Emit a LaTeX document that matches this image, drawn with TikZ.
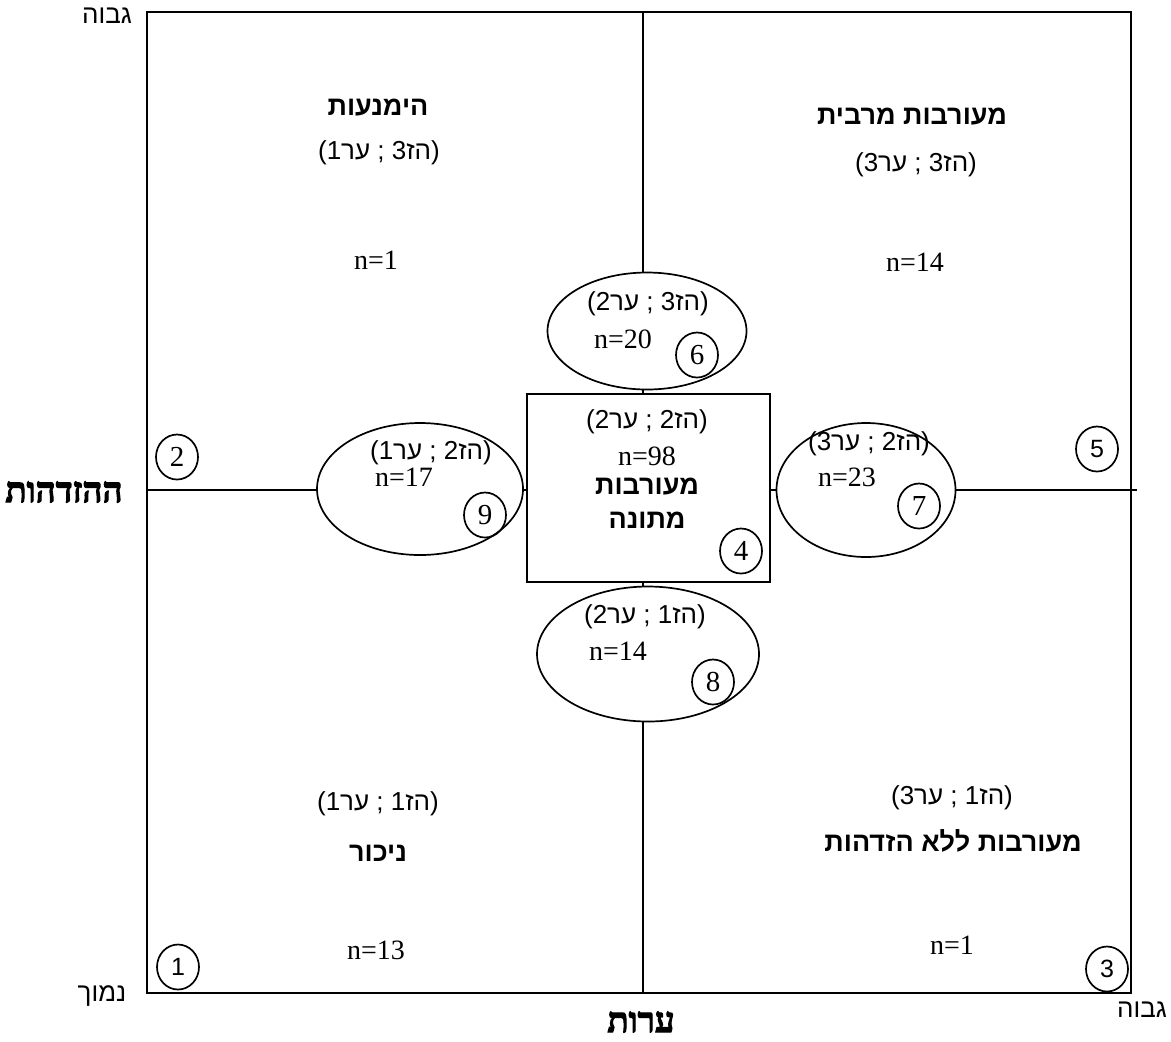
\documentclass[tikz,border=0pt]{standalone}
\usepackage{fontspec}
\setmainfont{Liberation Serif}
\newfontfamily\hebsans[Script=Hebrew]{Liberation Sans}
\newfontfamily\hebserif[Script=Hebrew,FakeBold=3]{Liberation Serif}
\TeXXeTstate=1
\usepackage{tikz}
\usetikzlibrary{shapes.geometric}

\newcommand{\rtxt}[1]{\beginR #1\endR}

\begin{document}
\begin{tikzpicture}[x=0.5pt,y=-0.5pt,line width=0.85pt,
  lbl/.style={font=\hebsans\fontsize{13}{15}\selectfont, inner sep=0pt},
  ttl/.style={font=\hebsans\bfseries\fontsize{13.5}{15}\selectfont, inner sep=0pt},
  axis/.style={font=\hebserif\bfseries\fontsize{17.5}{19}\selectfont, inner sep=0pt},
  cnr/.style={font=\hebsans\fontsize{13}{15}\selectfont, inner sep=0pt},
  cnt/.style={font=\fontsize{14}{16}\selectfont, inner sep=0pt},
  oval/.style={draw, ellipse, fill=white, inner sep=0pt},
  num/.style={draw, ellipse, minimum width=21pt, minimum height=22.5pt, inner sep=0pt, font=\fontsize{14.5}{16}\selectfont},
  numsf/.style={num, font=\hebsans\fontsize{12.5}{14}\selectfont}]
  \useasboundingbox (0,0) rectangle (1171,1041);
  % frame and axes
  \coordinate (nw) at (147,12);
  \coordinate (se) at (1131,993);
  \coordinate (top) at (643,12);
  \coordinate (bot) at (643,993);
  \coordinate (lft) at (147,490);
  \coordinate (rgt) at (1137,490);
  \draw (nw) rectangle (se);
  \draw (top) -- (bot);
  \draw (lft) -- (rgt);

  % middle
  \node[oval, minimum width=99.5pt, minimum height=58.5pt] (e6) at (647,331) {};
  \node[oval, minimum width=103pt, minimum height=66pt] (e9) at (420,489) {};
  \node[oval, minimum width=89.5pt, minimum height=67pt] (e7) at (866,490) {};
  \node[oval, minimum width=111pt, minimum height=67.5pt] (e8) at (648,654) {};
  \node[draw, fill=white, minimum width=121.5pt, minimum height=94pt, inner sep=0pt] (mid) at (648.5,488) {};

  \node[lbl] (e6a) at (648,304) {\rtxt{(הז3 ; ער2)}};
  \node[cnt] (e6b) at (623,339) {n=20};
  \node[num] (c6) at (697,355) {6};

  \node[lbl] (mida) at (647,422) {\rtxt{(הז2 ; ער2)}};
  \node[cnt] (midb) at (647,456) {n=98};
  \node[ttl] (midc) at (647,487) {\rtxt{מעורבות}};
  \node[ttl] (midd) at (647,520) {\rtxt{מתונה}};
  \node[num] (c4) at (741,551) {4};

  \node[lbl] (e9a) at (431,453) {\rtxt{(הז2 ; ער1)}};
  \node[cnt] (e9b) at (404,477) {n=17};
  \node[num] (c9) at (485,515) {9};

  \node[lbl] (e7a) at (869,444) {\rtxt{(הז2 ; ער3)}};
  \node[cnt] (e7b) at (847,477) {n=23};
  \node[num] (c7) at (919,506) {7};

  \node[lbl] (e8a) at (645,617) {\rtxt{(הז1 ; ער2)}};
  \node[cnt] (e8b) at (618,651) {n=14};
  \node[num] (c8) at (713,682) {8};

  % quadrants
  \node[ttl] (q1a) at (378,108) {\rtxt{הימנעות}};
  \node[lbl] (q1b) at (379,153) {\rtxt{(הז3 ; ער1)}};
  \node[cnt] (q1c) at (376,260) {n=1};

  \node[ttl] (q2a) at (912,117) {\rtxt{מעורבות מרבית}};
  \node[lbl] (q2b) at (916,165) {\rtxt{(הז3 ; ער3)}};
  \node[cnt] (q2c) at (915,262) {n=14};

  \node[lbl] (q3a) at (378,804) {\rtxt{(הז1 ; ער1)}};
  \node[ttl] (q3b) at (378,853) {\rtxt{ניכור}};
  \node[cnt] (q3c) at (376,950) {n=13};

  \node[lbl] (q4a) at (952,798) {\rtxt{(הז1 ; ער3)}};
  \node[ttl] (q4b) at (953,841) {\rtxt{מעורבות ללא הזדהות}};
  \node[cnt] (q4c) at (952,945) {n=1};

  % corners
  \node[num] (c2) at (177,457) {2};
  \node[numsf] (c5) at (1097,449) {5};
  \node[numsf] (c1) at (178,967) {1};
  \node[numsf] (c3) at (1107,969) {3};

  \node[cnr] (hi1) at (107,16) {\rtxt{גבוה}};
  \node[cnr] (lo) at (102,996) {\rtxt{נמוך}};
  \node[cnr] (hi2) at (1142,1010) {\rtxt{גבוה}};
  \node[axis] (ax1) at (64,492) {\rtxt{ההזדהות}};
  \node[axis] (ax2) at (641,1022) {\rtxt{ערות}};
\end{tikzpicture}
\end{document}
